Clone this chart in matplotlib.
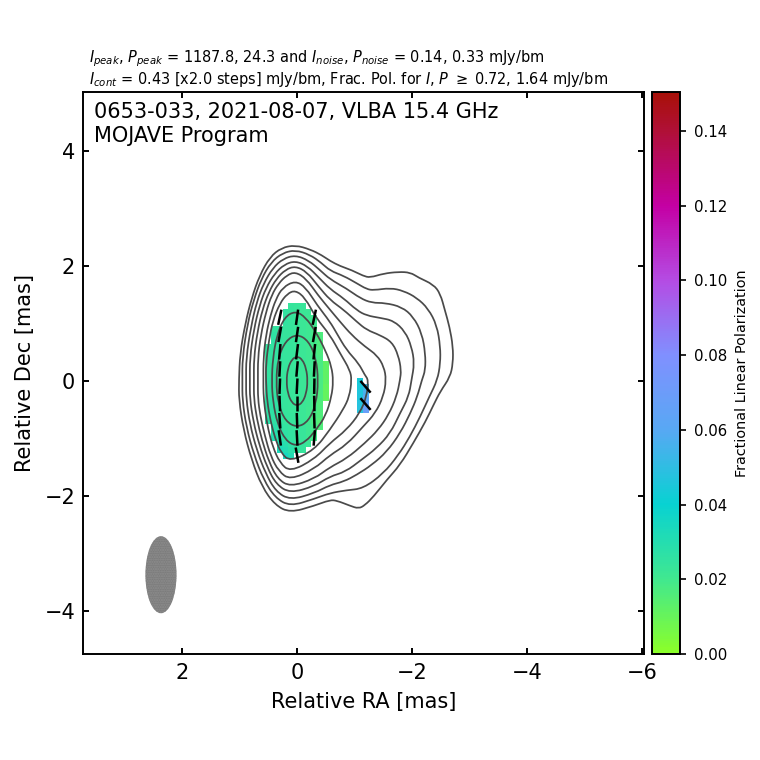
import numpy as np
import matplotlib
matplotlib.use("Agg")
import matplotlib.pyplot as plt
from matplotlib.colors import LinearSegmentedColormap
from matplotlib.patches import Ellipse, PathPatch
from matplotlib.path import Path

# --- contours of total intensity, (RA, Dec) in mas, outermost first ---
contour_1 = [(.03, 2.365), (-.23, 2.29), (-.43, 2.19), (-.574, 2.09), (-.75, 2.0), (-.95, 1.93), (-1.15, 1.83),
             (-1.27, 1.80), (-1.5, 1.87), (-1.76, 1.90), (-1.97, 1.89), (-2.11, 1.80), (-2.37, 1.68), (-2.49, 1.52),
             (-2.57, 1.23), (-2.65, .945), (-2.71, .6), (-2.71, .31), (-2.66, .07), (-2.49, -.18), (-2.37, -.42),
             (-2.23, -.71), (-2.02, -1.08), (-1.79, -1.46), (-1.56, -1.72), (-1.33, -2.01), (-1.18, -2.16),
             (-1.07, -2.22), (-.92, -2.17), (-.69, -2.08), (-.57, -2.07), (-.3, -2.17), (.12, -2.29), (.38, -2.16),
             (.61, -1.84), (.79, -1.37), (.93, -.85), (1.01, -.33), (1.01, .02), (.99, .48), (.90, 1.0), (.79, 1.44),
             (.65, 1.84), (.47, 2.16), (.27, 2.32)]
contour_2 = [(.03, 2.28), (-.22, 2.2), (-.42, 2.06), (-.574, 1.92), (-.81, 1.83), (-1.04, 1.70), (-1.21, 1.60),
             (-1.33, 1.58), (-1.62, 1.62), (-1.85, 1.57), (-2.08, 1.45), (-2.28, 1.26), (-2.43, .97), (-2.49, .6),
             (-2.49, .31), (-2.44, .02), (-2.30, -.27), (-2.14, -.62), (-1.96, -.97), (-1.76, -1.29), (-1.5, -1.61),
             (-1.15, -1.87), (-.86, -1.9), (-.57, -1.95), (-.3, -2.05), (.12, -2.18), (.38, -2.03), (.58, -1.72),
             (.75, -1.28), (.88, -.8), (.95, -.33), (.95, .0), (.95, .4), (.86, 1.0), (.75, 1.42), (.62, 1.78),
             (.45, 2.07), (.25, 2.23)]
contour_3 = [(.03, 2.19), (-.2, 2.1), (-.4, 1.93), (-.574, 1.77), (-.86, 1.61), (-1.10, 1.44), (-1.30, 1.36),
             (-1.53, 1.36), (-1.82, 1.29), (-2.02, 1.12), (-2.17, .83), (-2.23, .48), (-2.23, .19), (-2.17, .02),
             (-2.09, -.27), (-1.97, -.56), (-1.79, -.91), (-1.56, -1.23), (-1.30, -1.46), (-1.04, -1.63),
             (-.81, -1.75), (-.57, -1.81), (-.3, -1.95), (.12, -2.07), (.37, -1.92), (.55, -1.6), (.70, -1.2),
             (.82, -.75), (.885, -.3), (.885, .0), (.885, .4), (.80, .95), (.70, 1.38), (.58, 1.70), (.42, 1.97),
             (.24, 2.13)]
contour_4 = [(.03, 2.09), (-.18, 2.0), (-.38, 1.8), (-.574, 1.60), (-.81, 1.44), (-1.04, 1.23), (-1.21, 1.14),
             (-1.44, 1.10), (-1.68, 1.05), (-1.88, .86), (-1.99, .6), (-2.04, .31), (-1.99, .02), (-1.94, -.27),
             (-1.79, -.56), (-1.62, -.91), (-1.38, -1.17), (-1.12, -1.37), (-.84, -1.58), (-.57, -1.66),
             (-.3, -1.83), (.12, -1.95), (.36, -1.8), (.52, -1.5), (.66, -1.1), (.76, -.7), (.82, -.3), (.82, .0),
             (.82, .4), (.75, .9), (.65, 1.32), (.54, 1.62), (.39, 1.87), (.22, 2.03)]
contour_5 = [(.03, 2.0), (-.17, 1.9), (-.37, 1.65), (-.574, 1.41), (-.81, 1.24), (-1.04, 1.03), (-1.21, .89),
             (-1.44, .8), (-1.65, .68), (-1.76, .45), (-1.81, .19), (-1.79, .02), (-1.73, -.27), (-1.59, -.59),
             (-1.41, -.85), (-1.18, -1.08), (-.86, -1.35), (-.57, -1.5), (-.3, -1.70), (.12, -1.84), (.34, -1.7),
             (.49, -1.4), (.61, -1.03), (.70, -.65), (.75, -.3), (.75, .0), (.75, .4), (.69, .85), (.6, 1.25),
             (.49, 1.55), (.36, 1.78), (.2, 1.94)]
contour_6 = [(.03, 1.90), (-.16, 1.78), (-.36, 1.5), (-.574, 1.24), (-.75, 1.03), (-.95, .8), (-1.18, .6),
             (-1.39, .45), (-1.51, .25), (-1.55, .02), (-1.5, -.27), (-1.36, -.56), (-1.15, -.79), (-.86, -1.11),
             (-.57, -1.29), (-.3, -1.53), (.12, -1.72), (.32, -1.57), (.46, -1.3), (.56, -.95), (.64, -.6),
             (.68, -.3), (.68, .0), (.68, .4), (.63, .8), (.54, 1.2), (.44, 1.5), (.32, 1.7), (.18, 1.84)]
contour_7 = [(.03, 1.745), (-.15, 1.63), (-.35, 1.32), (-.574, 1.03), (-.69, .83), (-.86, .54), (-1.07, .31),
             (-1.18, .10), (-1.24, .02), (-1.21, -.27), (-1.09, -.56), (-.86, -.85), (-.57, -1.08), (-.3, -1.36),
             (.12, -1.58), (.3, -1.42), (.42, -1.15), (.5, -.85), (.56, -.5), (.585, -.2), (.585, .0), (.585, .4),
             (.54, .8), (.46, 1.15), (.37, 1.42), (.25, 1.63)]
contour_8 = [(.03, 1.58), (-.14, 1.45), (-.33, 1.1), (-.574, .8), (-.75, .48), (-.92, .19), (-.95, .02), (-.91, -.27),
             (-.80, -.5), (-.57, -.85), (-.3, -1.2), (.12, -1.40), (.28, -1.25), (.38, -1.0), (.46, -.7), (.52, -.35),
             (.54, .0), (.54, .3), (.49, .7), (.42, 1.05), (.3, 1.35), (.17, 1.52)]
contour_9 = [(.03, 1.22), (-.15, 1.11), (-.33, .85), (-.5, .52), (-.60, .25), (-.63, .0), (-.60, -.27), (-.5, -.6),
             (-.33, -.85), (-.15, -1.06), (.03, -1.13), (.2, -1.03), (.34, -.75), (.42, -.35), (.44, .0), (.42, .4),
             (.35, .8), (.22, 1.11)]
contour_10 = [(.0, .82), (-.2, .7), (-.33, .4), (-.37, .0), (-.33, -.4), (-.2, -.7), (.0, -.81), (.2, -.7),
              (.33, -.4), (.365, .0), (.33, .4), (.2, .7)]
contour_11 = [(.0, .43), (-.09, .38), (-.16, .22), (-.185, .0), (-.16, -.22), (-.09, -.38), (.0, -.43), (.09, -.38),
              (.16, -.22), (.185, .0), (.16, .22), (.09, .38)]
contours = [contour_1, contour_2, contour_3, contour_4, contour_5, contour_6,
            contour_7, contour_8, contour_9, contour_10, contour_11]

# --- fractional polarization cells, values in units of 0.001 ---
core_ra = [.5, .4, .3, .2, .1, .0, -.1, -.2, -.3, -.4, -.5]
core_dec = [1.3, 1.2, 1.1, 1.0, .9, .8, .7, .6, .5, .4, .3, .2, .1, .0,
            -.1, -.2, -.3, -.4, -.5, -.6, -.7, -.8, -.9, -1.0, -1.1, -1.2, -1.3]
core_first_col = [4, 3, 3, 3, 1, 1, 1, 0, 0, 0, 0, 0, 0, 0,
                  0, 0, 0, 0, 0, 0, 0, 1, 1, 1, 2, 2, 3]
core_values = [
    [24, 23, 23],
    [25, 24, 23, 22, 22],
    [25, 24, 23, 22, 21, 20],
    [25, 24, 23, 22, 21, 20],
    [25, 25, 24, 24, 23, 22, 21, 19],
    [26, 25, 24, 24, 23, 22, 21, 19, 17],
    [26, 25, 24, 24, 23, 22, 21, 19, 17],
    [25, 25, 25, 24, 24, 23, 22, 21, 19, 17],
    [25, 25, 25, 24, 24, 23, 22, 21, 19, 17],
    [25, 25, 25, 24, 24, 23, 22, 21, 20, 18],
    [25, 25, 24, 24, 23, 23, 22, 21, 20, 18, 12],
    [25, 25, 24, 24, 23, 23, 22, 21, 20, 18, 12],
    [25, 25, 24, 24, 23, 23, 22, 21, 20, 18, 12],
    [26, 25, 24, 24, 23, 23, 22, 21, 20, 18, 12],
    [26, 25, 24, 24, 23, 23, 22, 21, 20, 18, 11],
    [26, 25, 25, 24, 23, 23, 22, 21, 19, 17, 11],
    [26, 26, 25, 24, 23, 23, 22, 21, 19, 17, 11],
    [27, 26, 25, 24, 23, 23, 22, 21, 19, 16],
    [27, 26, 25, 24, 23, 23, 22, 20, 19, 16],
    [27, 26, 25, 24, 24, 23, 22, 20, 18, 16],
    [28, 26, 25, 24, 24, 23, 22, 20, 18, 15],
    [28, 26, 25, 24, 24, 23, 21, 19, 16],
    [29, 27, 26, 25, 24, 23, 21, 19],
    [30, 28, 26, 25, 24, 23, 21, 19],
    [31, 29, 27, 25, 24, 22],
    [33, 31, 28, 25, 24],
    [35, 31],
]

knot_ra = [-1.1, -1.2]
knot_dec = [.0, -.1, -.2, -.3, -.4, -.5]
knot_values = [
    [44, np.nan],
    [45, 52],
    [46, 56],
    [46, 60],
    [47, 64],
    [48, 68],
]

# --- polarization ticks: centres in mas, position angle in degrees ---
tick_dec = [1.11, .81, .51, .21, -.09, -.39, -.69, -.99, -1.29]
tick_pa_left = [-12, -10, -5, -3, -2, 2, 4, 8]
tick_pa_mid = [-8, -8, -7, -5, -3, 0, 2, 3, 10]
tick_pa_right = [-12, -10, -6, -3, -1, 1, 2, -5]
tick_ra_cols = [.3, .0, -.3]
knot_tick_ra = [-1.19, -1.19]
knot_tick_dec = [-.10, -.40]
knot_tick_pa = [41, 41]

# colorbar stops (value, colour)
cbar_max = 0.1504
cbar_values = [0.0, 0.02, 0.04, 0.06, 0.08, 0.10, 0.12, 0.14, cbar_max]
cbar_colors = ['#8cff28', '#40e890', '#08d2d2', '#58a8f4', '#8090ff',
               '#b44ce4', '#c400a4', '#b01038', '#a81008']

x_ticks = [2, 0, -2, -4, -6]
y_ticks = [4, 2, 0, -2, -4]
beam_ra, beam_dec = 2.365, -3.37
beam_major, beam_minor = 1.34, 0.54


def smooth_closed(points):
    # closed quadratic bezier through the midpoints, read-off points as controls
    pts = np.array(points)
    mids = (pts + np.roll(pts, -1, axis=0)) / 2
    verts = [mids[-1]]
    codes = [Path.MOVETO]
    for p, m in zip(pts, mids):
        verts += [p, m]
        codes += [Path.CURVE3, Path.CURVE3]
    return Path(verts, codes)


def draw_ticks(ax, ra, dec, pa, length=0.27):
    for r, d, a in zip(ra, dec, pa):
        dx = length / 2 * np.sin(np.radians(a))
        dy = length / 2 * np.cos(np.radians(a))
        ax.plot([r - dx, r + dx], [d - dy, d + dy], color='k', lw=1.8,
                solid_capstyle='butt', zorder=5)


def main():
    fig = plt.figure(figsize=(7.6, 7.6), dpi=100)
    ax = fig.add_axes([83 / 760, 106 / 760, 561 / 760, 562 / 760])
    cax = fig.add_axes([652 / 760, 106 / 760, 28 / 760, 562 / 760])

    cmap = LinearSegmentedColormap.from_list(
        'fracpol', [(v / cbar_max, c) for v, c in zip(cbar_values, cbar_colors)])

    # polarization image
    core = np.full((len(core_dec), len(core_ra)), np.nan)
    for i, (first, vals) in enumerate(zip(core_first_col, core_values)):
        core[i, first:first + len(vals)] = vals
    im = ax.pcolormesh(core_ra, core_dec, core * 1e-3, cmap=cmap, vmin=0, vmax=cbar_max,
                       shading='nearest', rasterized=True, zorder=1)
    ax.pcolormesh(knot_ra, knot_dec, np.array(knot_values) * 1e-3, cmap=cmap, vmin=0, vmax=cbar_max,
                  shading='nearest', zorder=1)

    for c in contours:
        ax.add_patch(PathPatch(smooth_closed(c), fc='none', ec='#4a4a4a', lw=1.25, zorder=3))

    draw_ticks(ax, [tick_ra_cols[0]] * 8, tick_dec[:8], tick_pa_left)
    draw_ticks(ax, [tick_ra_cols[1]] * 9, tick_dec, tick_pa_mid)
    draw_ticks(ax, [tick_ra_cols[2]] * 8, tick_dec[:8], tick_pa_right)
    draw_ticks(ax, knot_tick_ra, knot_tick_dec, knot_tick_pa)

    ax.add_patch(Ellipse((beam_ra, beam_dec), beam_minor, beam_major, fc='#7c7c7c',
                         ec='#8e8e8e', lw=0, hatch='.......', zorder=2))

    ax.set_xlim(3.72, -6.03)
    ax.set_ylim(-4.75, 5.03)
    ax.set_xticks(x_ticks)
    ax.set_yticks(y_ticks)
    ax.tick_params(direction='in', top=True, right=True, length=4.5, width=1.4, labelsize=15)
    ax.tick_params(axis='x', pad=6.3)
    ax.tick_params(axis='y', pad=5.6)
    for s in ax.spines.values():
        s.set_linewidth(1.4)
    ax.set_xlabel('Relative RA [mas]', fontsize=15, labelpad=7)
    ax.set_ylabel('Relative Dec [mas]', fontsize=15, labelpad=7)

    ax.text(0.02, 0.983, '0653-033, 2021-08-07, VLBA 15.4 GHz\nMOJAVE Program', transform=ax.transAxes,
            fontsize=15, va='top', ha='left', linespacing=1.25)
    ax.text(0.01, 1.0585, r'$I_{peak}$, $P_{peak}$ = 1187.8, 24.3 and $I_{noise}$, $P_{noise}$ = 0.14, 0.33 mJy/bm',
            transform=ax.transAxes, fontsize=10.46, va='center')
    ax.text(0.01, 1.0215, r'$I_{cont}$ = 0.43 [x2.0 steps] mJy/bm, Frac. Pol. for $I$, $P$ $\geq$ 0.72, 1.64 mJy/bm',
            transform=ax.transAxes, fontsize=10.46, va='center')

    cb = fig.colorbar(im, cax=cax)
    cb.set_ticks(np.arange(0, 0.15, 0.02))
    cb.ax.tick_params(labelsize=10.8, length=4.5, width=1.2, pad=5.5)
    cb.outline.set_linewidth(1.4)
    cb.set_label('Fractional Linear Polarization', fontsize=10.4, labelpad=5.5)

    fig.savefig('out.png', dpi=100)


if __name__ == "__main__":
    main()
